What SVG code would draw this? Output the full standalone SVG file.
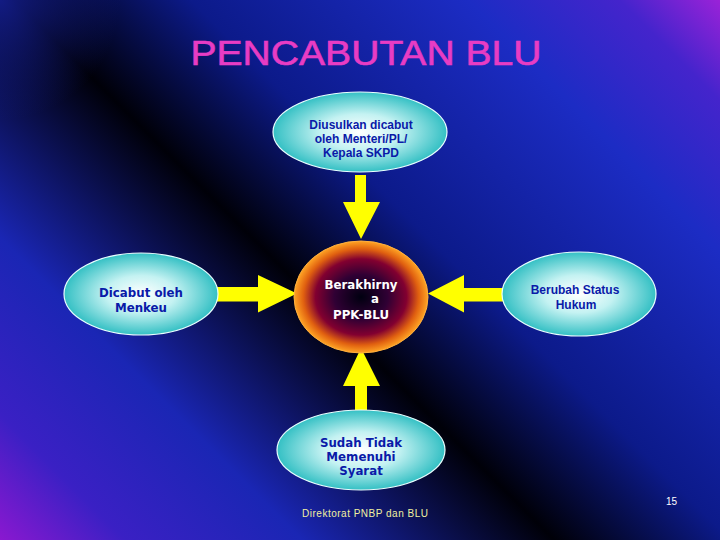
<svg xmlns="http://www.w3.org/2000/svg" width="720" height="540" viewBox="0 0 720 540">
<defs>
<linearGradient id="bg" gradientUnits="userSpaceOnUse" x1="0" y1="540" x2="630" y2="-90">
<stop offset="0" stop-color="#8a18d0"/>
<stop offset="0.1" stop-color="#3a20c4"/>
<stop offset="0.24" stop-color="#1a26b4"/>
<stop offset="0.44" stop-color="#000008"/>
<stop offset="0.58" stop-color="#0c1a8a"/>
<stop offset="0.8" stop-color="#1c2cc4"/>
<stop offset="0.92" stop-color="#4424cc"/>
<stop offset="1" stop-color="#9a22d8"/>
</linearGradient>
<radialGradient id="tl" gradientUnits="userSpaceOnUse" cx="0" cy="0" r="120">
<stop offset="0" stop-color="#141e90" stop-opacity="0.9"/>
<stop offset="1" stop-color="#141e90" stop-opacity="0"/>
</radialGradient>
<radialGradient id="cyan" cx="0.5" cy="0.5" r="0.5">
<stop offset="0" stop-color="#ffffff"/>
<stop offset="0.45" stop-color="#c4f2f2"/>
<stop offset="1" stop-color="#34c0c4"/>
</radialGradient>
<radialGradient id="core" cx="0.5" cy="0.5" r="0.5">
<stop offset="0" stop-color="#000010"/>
<stop offset="0.4" stop-color="#300034"/>
<stop offset="0.68" stop-color="#820030"/>
<stop offset="0.86" stop-color="#e06010"/>
<stop offset="1" stop-color="#ffa424"/>
</radialGradient>
<style>
.node{fill:url(#cyan);stroke:#e8ffff;stroke-width:1.2}
.t1{font-family:"Liberation Sans",Arial,sans-serif;font-weight:bold;font-size:12px;fill:#0a1aa8;text-anchor:middle}
.t2{font-family:"DejaVu Sans",Verdana,sans-serif;font-weight:bold;font-size:11.8px;fill:#0a1aa8;text-anchor:middle}
.arrow{fill:#ffff00}
</style>
</defs>
<rect x="0" y="0" width="720" height="540" fill="url(#bg)"/>
<rect x="0" y="0" width="120" height="120" fill="url(#tl)"/>
<text x="366" y="65" font-family="Liberation Sans,Arial,sans-serif" font-size="35" fill="#e83cc4" stroke="#e83cc4" stroke-width="0.6" text-anchor="middle" textLength="351" lengthAdjust="spacingAndGlyphs">PENCABUTAN BLU</text>

<g id="connectors">
<polygon class="arrow" points="355,175 366,175 366,202 380,202 361,239 343,202 355,202"/>
<polygon class="arrow" points="216,287 258,287 258,275 297,293.5 258,312.5 258,301.5 216,301.5"/>
<polygon class="arrow" points="504,288 464,288 464,275 428,293.5 464,312.5 464,301.5 504,301.5"/>
<polygon class="arrow" points="355,410 367,410 367,386 380,386 361,348 343,386 355,386"/>
</g>

<g id="node-top">
<ellipse class="node" cx="360" cy="132" rx="87" ry="40"/>
<text class="t1" x="361" y="129">Diusulkan dicabut</text>
<text class="t1" x="361" y="143">oleh Menteri/PL/</text>
<text class="t1" x="361" y="157">Kepala SKPD</text>
</g>

<g id="node-left">
<ellipse class="node" cx="141" cy="294" rx="77" ry="41"/>
<text class="t2" x="141" y="297">Dicabut oleh</text>
<text class="t2" x="141" y="312">Menkeu</text>
</g>

<g id="node-center">
<ellipse cx="361" cy="297" rx="67" ry="56" fill="url(#core)" stroke="#ffb040" stroke-width="1"/>
<text class="t2" x="361" y="289" style="fill:#ffffff">Berakhirny</text>
<text class="t2" x="375" y="303" style="fill:#ffffff">a</text>
<text class="t2" x="361" y="319" style="fill:#ffffff">PPK-BLU</text>
</g>

<g id="node-right">
<ellipse class="node" cx="579" cy="294" rx="77" ry="42"/>
<text class="t1" x="575" y="294">Berubah Status</text>
<text class="t1" x="576" y="309">Hukum</text>
</g>

<g id="node-bottom">
<ellipse class="node" cx="361" cy="450" rx="84" ry="40"/>
<text class="t2" x="361" y="447">Sudah Tidak</text>
<text class="t2" x="361" y="461">Memenuhi</text>
<text class="t2" x="361" y="475">Syarat</text>
</g>

<text x="302" y="517" font-family="Liberation Sans,Arial,sans-serif" font-size="10" fill="#f0f0a0" textLength="126" lengthAdjust="spacing">Direktorat  PNBP  dan BLU</text>
<text x="677" y="505" font-family="Liberation Sans,Arial,sans-serif" font-size="10" fill="#ffffff" text-anchor="end">15</text>
</svg>
